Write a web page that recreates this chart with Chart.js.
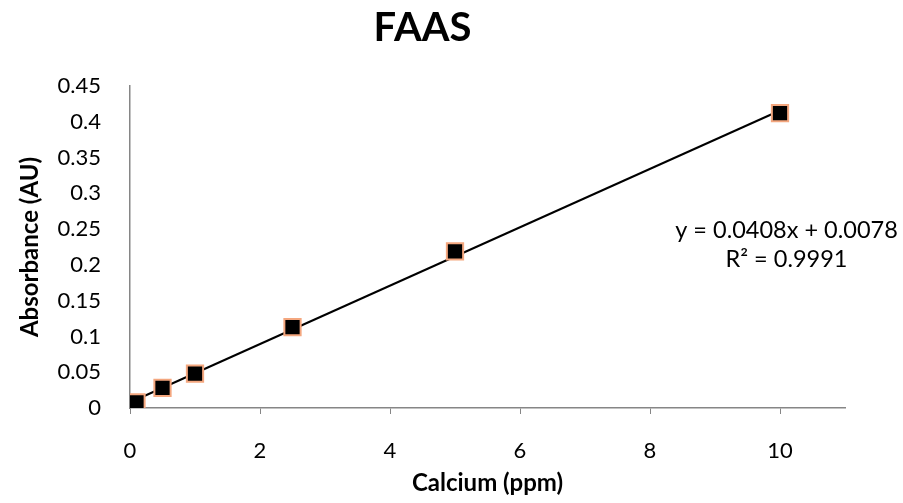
<!DOCTYPE html>
<html>
<head>
<meta charset="utf-8">
<script src="https://cdn.jsdelivr.net/npm/chart.js@4/dist/chart.umd.min.js"></script>
<style>
  html, body { margin: 0; padding: 0; background: #fff; }
  #wrap { width: 903px; height: 503px; }
</style>
</head>
<body>
<div id="wrap"><canvas id="chartFaas" width="903" height="503"></canvas></div>
<script>
// calibration standards
const concentrations = [0.1, 0.5, 1, 2.5, 5, 10];
const absorbances = [0.008, 0.028, 0.048, 0.113, 0.219, 0.412];
// trendline as printed on the chart
const slope = 0.0408;
const intercept = 0.0078;
const rSquared = '0.9991';
const xTicks = [0, 2, 4, 6, 8, 10];

const FONT = 'Lato, "Open Sans", sans-serif';
const axisGray = '#868686';

const points = concentrations.map((c, i) => ({ x: c, y: absorbances[i] }));
const xMin = Math.min(...concentrations);
const xMax = Math.max(...concentrations);
const trend = [
  { x: xMin, y: slope * xMin + intercept },
  { x: xMax, y: slope * xMax + intercept },
];

const equationLabel = {
  id: 'equationLabel',
  afterDatasetsDraw(chart) {
    const { ctx, scales } = chart;
    const cx = scales.x.getPixelForValue(10.1);
    const cy = scales.y.getPixelForValue(0.248);
    ctx.save();
    ctx.fillStyle = '#000';
    ctx.font = '23.5px ' + FONT;
    ctx.textAlign = 'center';
    ctx.textBaseline = 'middle';
    ctx.fillText('y = ' + slope + 'x + ' + intercept, cx, cy);
    ctx.fillText('R\u00B2 = ' + rSquared, cx, cy + 29);
    ctx.restore();
  },
};

const ctx = document.getElementById('chartFaas').getContext('2d');
new Chart(ctx, {
  data: {
    datasets: [
      {
        type: 'scatter',
        label: 'Standards',
        data: points,
        pointStyle: 'rect',
        pointRadius: 11.5,
        pointHoverRadius: 11.5,
        backgroundColor: '#000',
        borderColor: '#F4A77F',
        borderWidth: 2,
        order: 0,
      },
      {
        type: 'line',
        label: 'Linear',
        data: trend,
        borderColor: '#000',
        borderWidth: 2,
        pointRadius: 0,
        fill: false,
        order: 1,
      },
    ],
  },
  options: {
    responsive: false,
    animation: false,
    layout: { padding: { top: 0, right: 58, bottom: 0, left: 0 } },
    plugins: {
      legend: { display: false },
      tooltip: { enabled: false },
      title: {
        display: true,
        text: 'FAAS',
        color: '#000',
        font: { family: FONT, size: 40, weight: 'bold' },
        padding: { top: 4, bottom: 34 },
      },
    },
    scales: {
      x: {
        type: 'linear',
        min: 0,
        max: 11,
        afterBuildTicks(scale) {
          scale.ticks = xTicks.map((v) => ({ value: v }));
        },
        afterFit(scale) { scale.height = 95; },
        grid: {
          drawOnChartArea: false,
          drawTicks: true,
          tickLength: 6,
          color: axisGray,
        },
        border: { display: true, color: axisGray, width: 1.5 },
        ticks: {
          color: '#000',
          padding: 24,
          font: { family: FONT, size: 22 },
        },
        title: {
          display: true,
          text: 'Calcium (ppm)',
          color: '#000',
          font: { family: FONT, size: 24, weight: 'bold' },
          padding: { top: 4, bottom: 5 },
        },
      },
      y: {
        type: 'linear',
        min: 0,
        max: 0.45,
        ticks: {
          stepSize: 0.05,
          color: '#000',
          padding: 21,
          font: { family: FONT, size: 22 },
          callback: (v) => Number(v.toFixed(2)).toString(),
        },
        afterFit(scale) { scale.width = 130; },
        grid: { display: false },
        border: { display: true, color: axisGray, width: 1.5 },
        title: {
          display: true,
          text: 'Absorbance (AU)',
          color: '#000',
          font: { family: FONT, size: 24, weight: 'bold' },
          padding: { top: 16, bottom: 0 },
        },
      },
    },
  },
  plugins: [equationLabel],
});
</script>
</body>
</html>
